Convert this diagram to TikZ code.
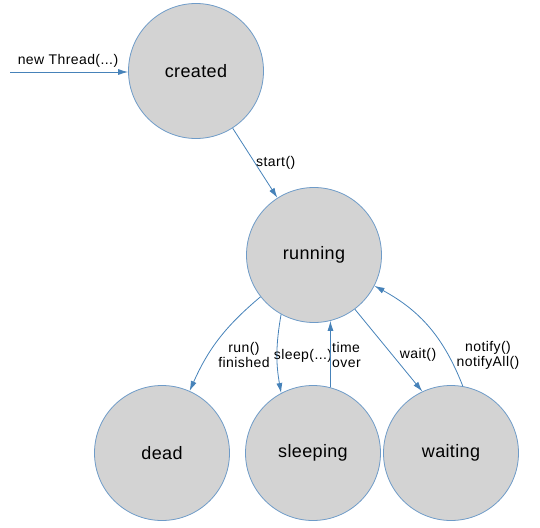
\documentclass[tikz,border=0pt]{standalone}
\usepackage{fontspec}
\setmainfont{Liberation Sans}
\usetikzlibrary{arrows.meta}
\definecolor{stfill}{RGB}{211,211,211}
\definecolor{stline}{RGB}{110,155,200}
\definecolor{arr}{RGB}{70,130,185}
\begin{document}
\begin{tikzpicture}[x=1pt,y=-1pt,
  state/.style={circle,draw=stline,fill=stfill,line width=0.8pt,minimum size=135pt,inner sep=0pt,font=\fontsize{18}{20}\selectfont\addfontfeature{LetterSpace=2}},
  conn/.style={draw=arr,line width=0.8pt,-{Latex[length=10pt,width=6pt]}},
  lbl/.style={font=\fontsize{14}{15}\selectfont\addfontfeature{LetterSpace=3},align=center,inner sep=1pt}]
\useasboundingbox (0,0) rectangle (540,527);
\node[state] (created) at (196,71) {created};
\node[state] (running) at (314,255) {running};
\node[state] (dead) at (162,453) {dead};
\node[state] (sleeping) at (313,453) {sleeping};
\node[state] (waiting) at (451,453) {waiting};
\coordinate (src) at (10,72);
\draw[conn] (src) -- (created.west |- src);
\node[lbl] (lnew) at (68,61) {new Thread(...)};
\draw[conn] (created) -- (running);
\node[lbl,anchor=west] (lstart) at (255,163) {start()};
\draw[conn] (running.218) to[bend right=13] (dead.66);
\node[lbl] (lrun) at (244,355) {run()\\finished};
\draw[conn] (running.241) to[bend right=10] (sleeping.118);
\node[lbl] (lsleep) at (303,356) {sleep(...)};
\draw[conn] (sleeping.75) -- (running.284);
\node[lbl,align=left,anchor=west] (ltime) at (331,355) {time\\over};
\draw[conn] (running.307) -- (waiting.115);
\node[lbl] (lwait) at (418,355) {wait()};
\draw[conn] (waiting.80) to[bend right=20] (running.-27);
\node[lbl] (lnotify) at (488,355) {notify()\\notifyAll()};
\end{tikzpicture}
\end{document}
